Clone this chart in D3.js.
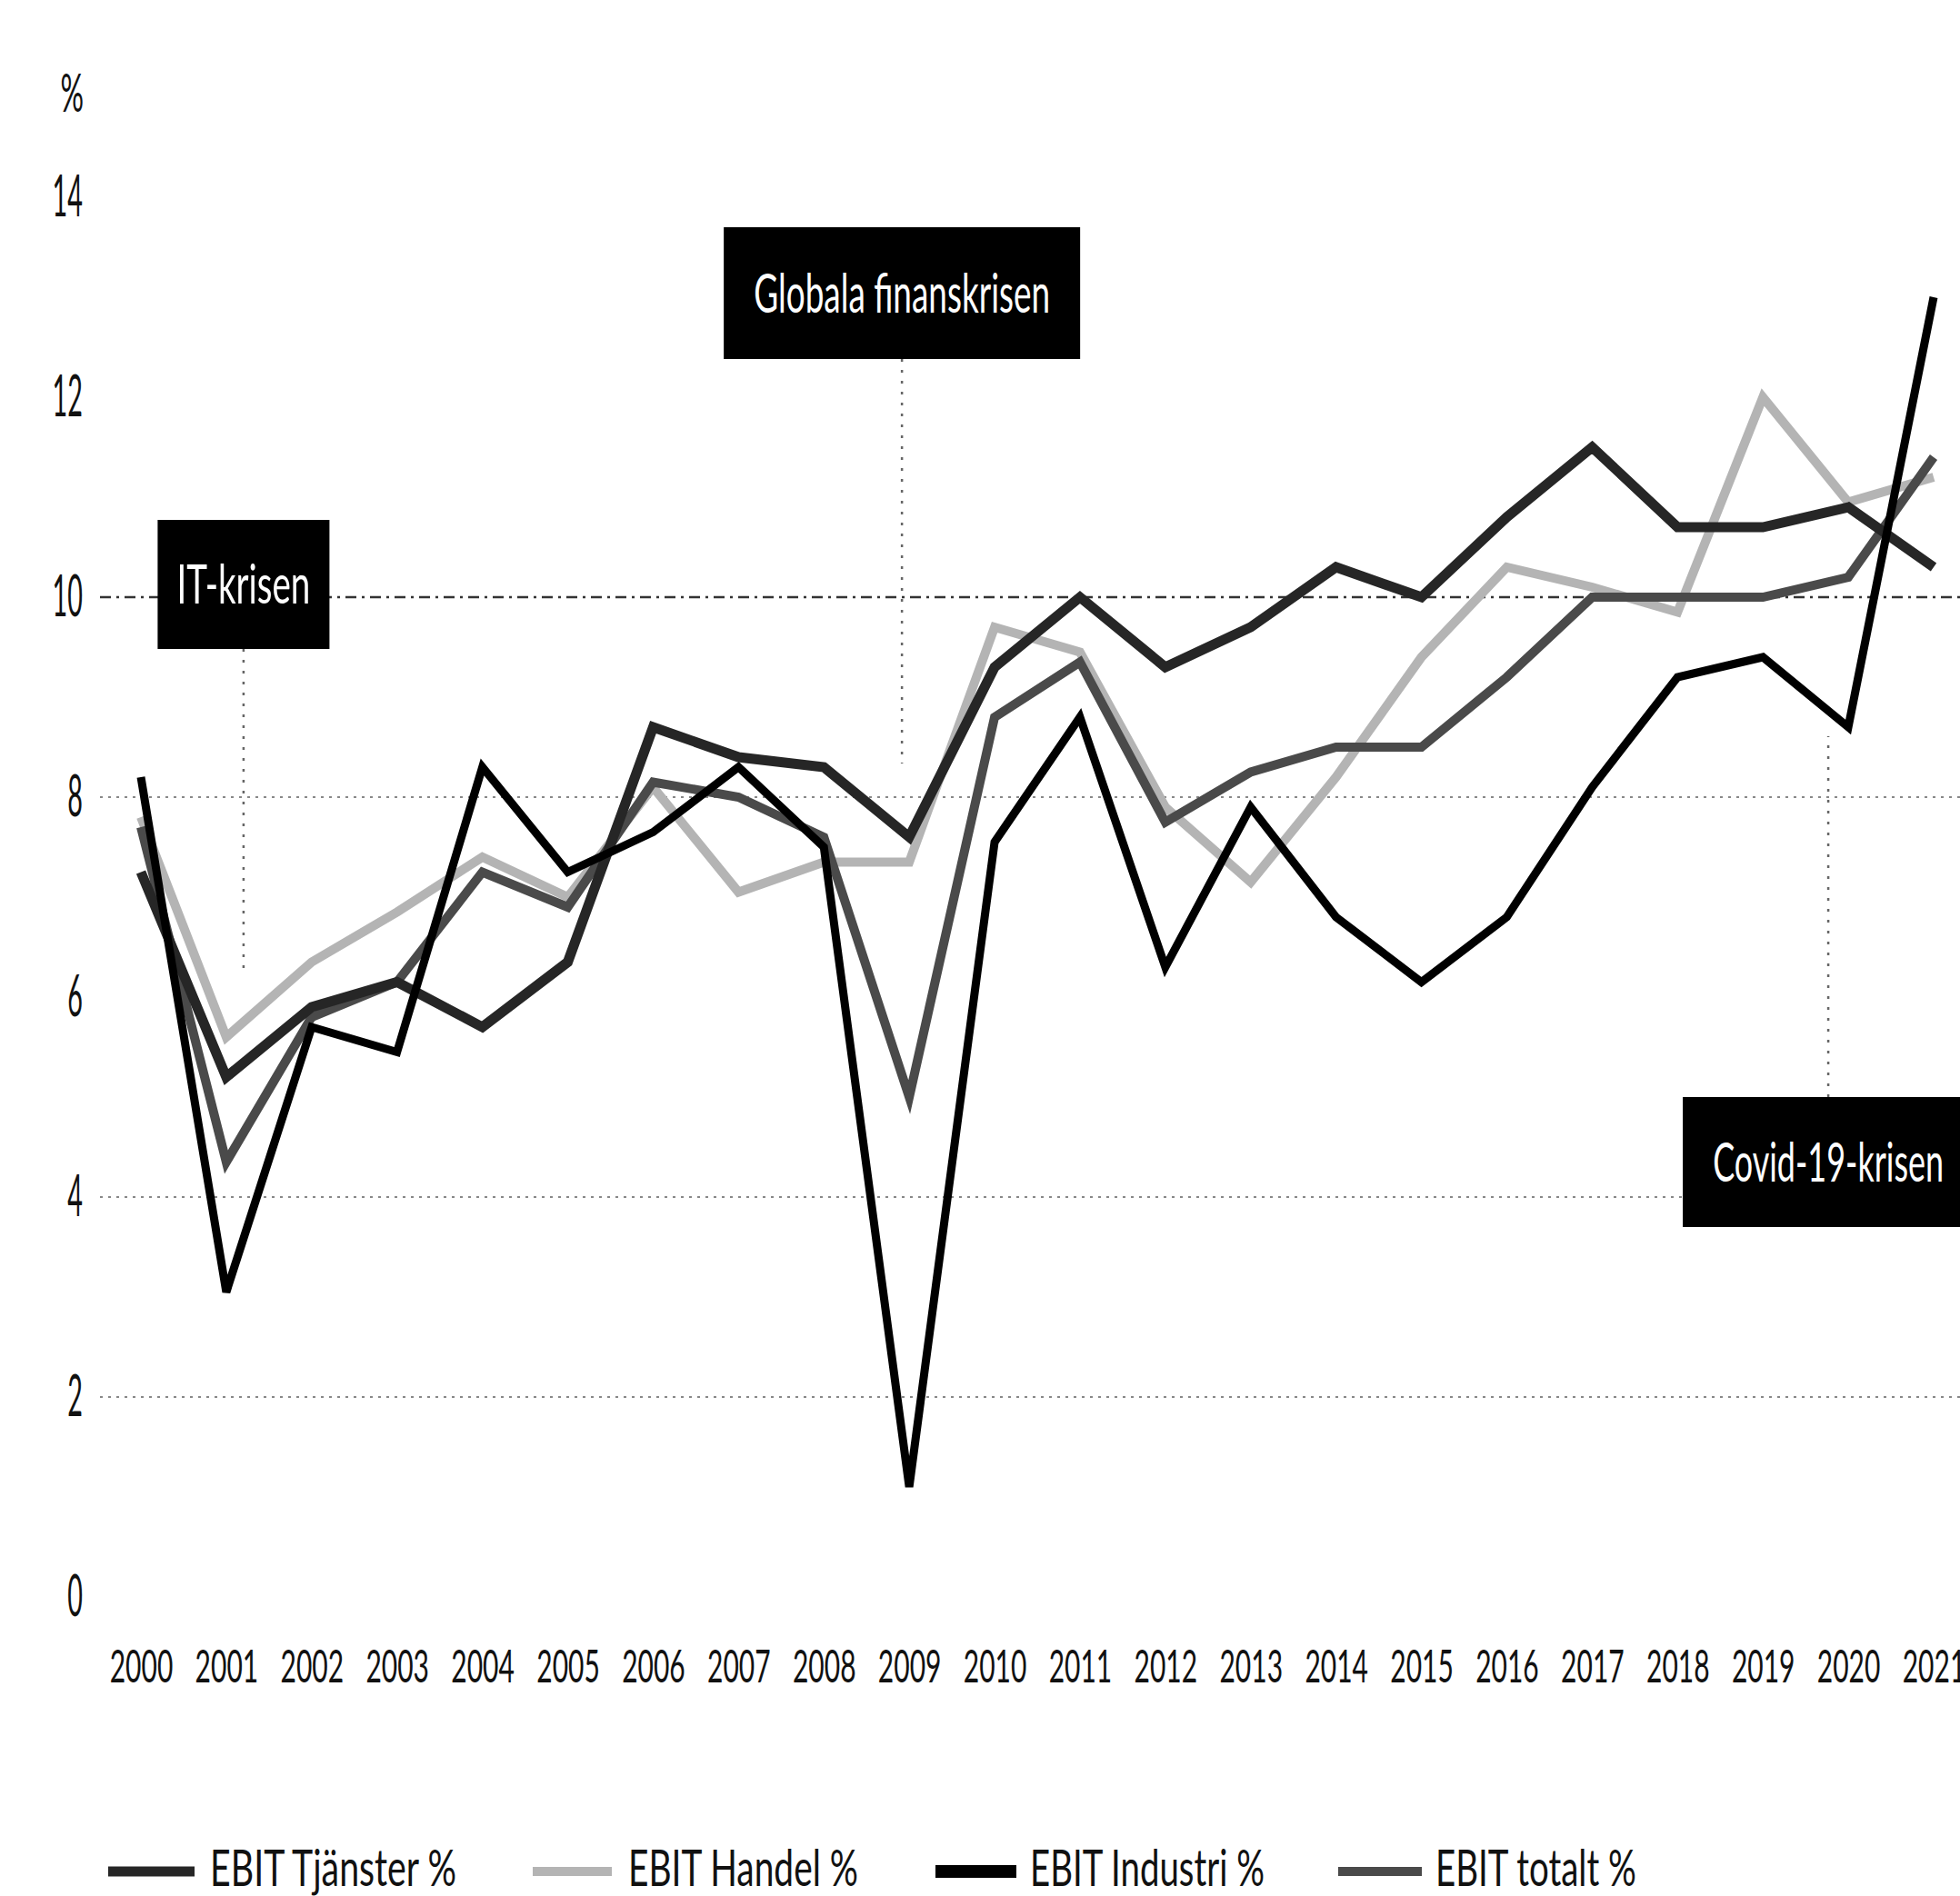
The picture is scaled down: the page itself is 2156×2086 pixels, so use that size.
<!DOCTYPE html>
<html>
<head>
<meta charset="utf-8">
<script src="https://cdn.jsdelivr.net/npm/d3@7.9.0/dist/d3.min.js"></script>
<style>
  html, body { margin: 0; padding: 0; background: #fff; }
  svg { display: block; font-family: Lato, 'Open Sans', sans-serif; }
</style>
</head>
<body>
<svg id="chart" width="2156" height="2086"></svg>
<script>
const years = [2000, 2001, 2002, 2003, 2004, 2005, 2006, 2007, 2008, 2009, 2010,
  2011, 2012, 2013, 2014, 2015, 2016, 2017, 2018, 2019, 2020, 2021];

const tjanster = [7.25, 5.2, 5.9, 6.15, 5.7, 6.35, 8.7, 8.4, 8.3, 7.6, 9.3,
  10.0, 9.3, 9.7, 10.3, 10.0, 10.8, 11.5, 10.7, 10.7, 10.9, 10.3];
const handel = [7.8, 5.6, 6.35, 6.85, 7.4, 7.0, 8.1, 7.05, 7.35, 7.35, 9.7,
  9.45, 7.9, 7.15, 8.2, 9.4, 10.3, 10.1, 9.85, 12.0, 10.95, 11.2];
const industri = [8.2, 3.05, 5.7, 5.45, 8.3, 7.25, 7.65, 8.3, 7.5, 1.1, 7.55,
  8.8, 6.3, 7.9, 6.8, 6.15, 6.8, 8.1, 9.2, 9.4, 8.7, 13.0];
const totalt = [7.7, 4.35, 5.8, 6.15, 7.25, 6.9, 8.15, 8.0, 7.6, 5.0, 8.8,
  9.35, 7.75, 8.25, 8.5, 8.5, 9.2, 10.0, 10.0, 10.0, 10.2, 11.4];

const yTicks = [0, 2, 4, 6, 8, 10, 12, 14];
const gridValues = [2, 4, 8, 10];

const seriesNames = ['EBIT Tjänster %', 'EBIT Handel %', 'EBIT Industri %', 'EBIT totalt %'];
const crisisLabels = ['IT-krisen', 'Globala finanskrisen', 'Covid-19-krisen'];
const crisisYears = [2001, 2009, 2020];

const svg = d3.select('#chart');

const x = d3.scalePoint().domain(years).range([155, 2127]);
const y = d3.scaleLinear().domain([0, 14]).range([1757, 217]);

// the source font is very narrow, so texts get squeezed with a horizontal scale
function natural(node) {
  return node.getComputedTextLength();
}

// gridlines
svg.append('g')
  .selectAll('line')
  .data(gridValues)
  .join('line')
  .attr('x1', 110)
  .attr('x2', 2156)
  .attr('y1', (d) => y(d))
  .attr('y2', (d) => y(d))
  .attr('stroke', (d) => d === 10 ? '#333' : '#888')
  .attr('stroke-width', (d) => d === 10 ? 2.5 : 2)
  .attr('stroke-dasharray', (d) => d === 10 ? '12,6,3,6' : '3,6');

// y axis
const yScaleX = 0.45;
const yAxis = svg.append('g')
  .attr('transform', 'translate(100,0)')
  .call(d3.axisLeft(y).tickValues(yTicks).tickSize(0).tickPadding(9).tickFormat(d3.format('d')));
yAxis.select('.domain').remove();
yAxis.selectAll('text')
  .attr('font-family', 'Lato, sans-serif')
  .attr('font-size', 64)
  .attr('fill', '#111')
  .attr('x', -9 / yScaleX)
  .attr('transform', `scale(${yScaleX},1)`);

svg.append('text')
  .attr('transform', 'translate(92,103) scale(0.55,1)')
  .attr('dy', '0.35em')
  .attr('text-anchor', 'end')
  .attr('font-size', 58)
  .attr('fill', '#111')
  .text('%');

// x axis
const xAxis = svg.append('g')
  .attr('transform', 'translate(0,1815)')
  .call(d3.axisBottom(x).tickSize(0).tickPadding(0).tickFormat(d3.format('d')));
xAxis.select('.domain').remove();
xAxis.selectAll('text')
  .attr('font-family', 'Lato, sans-serif')
  .attr('font-size', 50)
  .attr('dy', '0.71em')
  .attr('fill', '#111')
  .attr('transform', 'scale(0.6,1)');

// crisis connectors and boxes
const boxes = [
  { dx: 19, top: 572, w: 189, h: 142, text: 147, from: 714, to: 1068 },
  { dx: -8, top: 250, w: 392, h: 145, text: 326, from: 395, to: 840 },
  { dx: -22, top: 1207, w: 320, h: 143, text: 254, from: 1207, to: 810 },
];

svg.append('g')
  .selectAll('line')
  .data(boxes)
  .join('line')
  .attr('x1', (d, i) => x(crisisYears[i]) + d.dx)
  .attr('x2', (d, i) => x(crisisYears[i]) + d.dx)
  .attr('y1', (d) => d.from)
  .attr('y2', (d) => d.to)
  .attr('stroke', '#666')
  .attr('stroke-width', 2.5)
  .attr('stroke-dasharray', '3,9');

// series lines
const series = [
  { name: seriesNames[1], values: handel, color: '#b4b4b4', width: 10 },
  { name: seriesNames[3], values: totalt, color: '#4a4a4a', width: 10 },
  { name: seriesNames[0], values: tjanster, color: '#262626', width: 11 },
  { name: seriesNames[2], values: industri, color: '#000', width: 9 },
];

const line = d3.line()
  .x((d, i) => x(years[i]))
  .y((d) => y(d));

svg.append('g')
  .selectAll('path')
  .data(series)
  .join('path')
  .attr('d', (d) => line(d.values))
  .attr('fill', 'none')
  .attr('stroke', (d) => d.color)
  .attr('stroke-width', (d) => d.width)
  .attr('stroke-linejoin', 'miter');

const boxG = svg.append('g')
  .selectAll('g')
  .data(boxes)
  .join('g')
  .attr('transform', (d, i) => `translate(${x(crisisYears[i]) + d.dx},${d.top})`);

boxG.append('rect')
  .attr('x', (d) => -d.w / 2)
  .attr('y', 0)
  .attr('width', (d) => d.w)
  .attr('height', (d) => d.h)
  .attr('fill', '#000');

boxG.append('text')
  .attr('dy', '0.35em')
  .attr('text-anchor', 'middle')
  .attr('font-size', 60)
  .attr('fill', '#fff')
  .text((d, i) => crisisLabels[i])
  .attr('transform', function (d) {
    const s = d.text / natural(this);
    return `translate(0,${d.h / 2}) scale(${s},1)`;
  });

// legend
const legendItems = [
  { name: seriesNames[0], color: '#262626', sx: 119, sw: 95, sh: 11, tx: 231, tw: 271 },
  { name: seriesNames[1], color: '#b4b4b4', sx: 586, sw: 87, sh: 10, tx: 691, tw: 253 },
  { name: seriesNames[2], color: '#000', sx: 1029, sw: 89, sh: 14, tx: 1133, tw: 258 },
  { name: seriesNames[3], color: '#4a4a4a', sx: 1472, sw: 92, sh: 10, tx: 1579, tw: 221 },
];

const legend = svg.append('g').attr('transform', 'translate(0,2055)');

legend.selectAll('rect')
  .data(legendItems)
  .join('rect')
  .attr('x', (d) => d.sx)
  .attr('y', (d) => -d.sh / 2 + 4)
  .attr('width', (d) => d.sw)
  .attr('height', (d) => d.sh)
  .attr('fill', (d) => d.color);

legend.selectAll('text')
  .data(legendItems)
  .join('text')
  .attr('dy', '0.35em')
  .attr('font-size', 56)
  .attr('fill', '#111')
  .text((d) => d.name)
  .attr('transform', function (d) {
    const s = d.tw / natural(this);
    return `translate(${d.tx},0) scale(${s},1)`;
  });
</script>
</body>
</html>
